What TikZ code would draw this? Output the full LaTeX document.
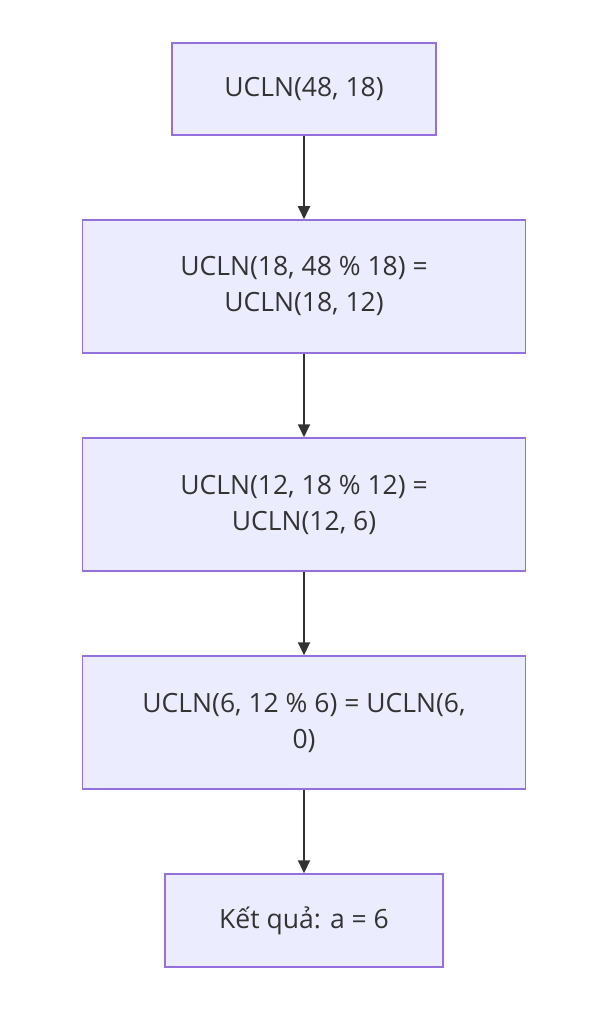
\documentclass[tikz,border=0pt]{standalone}
\usepackage{fontspec}
\setmainfont{Open Sans}
\usetikzlibrary{arrows.meta}
\definecolor{ink}{HTML}{333333}
\definecolor{edge}{HTML}{9370DB}
\definecolor{soft}{HTML}{ECECFF}
\tikzset{
  box/.style={draw=edge,line width=1.5pt,fill=soft,inner sep=0pt,align=center,text=ink,font=\fontsize{26.5}{36}\selectfont},
  ar/.style={-{Triangle[length=13pt,width=12pt]},draw=ink,line width=1.8pt},
}
\begin{document}
\begin{tikzpicture}[x=1pt,y=-1pt]
  \useasboundingbox (0,0) rectangle (590,1024);
  \node[box,minimum width=264pt,minimum height=92pt] (start) at (304,89) {UCLN(48, 18)};
  \node[box,minimum width=443pt,minimum height=133pt] (step1) at (304,286.5) {UCLN(18, 48 \% 18) =\\UCLN(18, 12)};
  \node[box,minimum width=443pt,minimum height=133pt] (step2) at (304,504.5) {UCLN(12, 18 \% 12) =\\UCLN(12, 6)};
  \node[box,minimum width=443pt,minimum height=133pt] (step3) at (304,722.5) {UCLN(6, 12 \% 6) = UCLN(6,\\0)};
  \node[box,minimum width=278pt,minimum height=93pt] (result) at (304,920.5) {Kết quả: a = 6};
  \draw[ar] (start) -- (step1); \draw[ar] (step1) -- (step2);
  \draw[ar] (step2) -- (step3); \draw[ar] (step3) -- (result);
\end{tikzpicture}
\end{document}
